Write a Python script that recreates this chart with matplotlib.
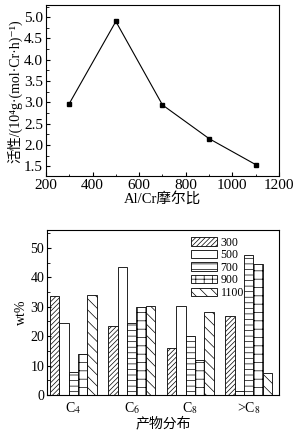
import numpy as np
import matplotlib
matplotlib.use("Agg")
import matplotlib.pyplot as plt
from matplotlib.ticker import MultipleLocator, AutoMinorLocator

plt.rcParams['font.family'] = ['Liberation Serif', 'DejaVu Serif', 'Noto Sans CJK SC']
plt.rcParams['mathtext.fontset'] = 'stix'
plt.rcParams['hatch.linewidth'] = 0.5
plt.rcParams['axes.linewidth'] = 0.8

# activity vs Al/Cr ratio
ratio = [300, 500, 700, 900, 1100]
activity = [2.97, 4.90, 2.94, 2.15, 1.54]

# product distribution (wt%)
groups = ['C$_4$', 'C$_6$', 'C$_8$', '>C$_8$']
series_labels = ['300', '500', '700', '900', '1100']
wt = {
    '300': [33.5, 23.6, 15.9, 26.9],
    '500': [24.6, 43.5, 30.3, 1.4],
    '700': [7.9, 24.5, 19.9, 47.6],
    '900': [14.0, 29.9, 11.9, 44.4],
    '1100': [34.0, 30.2, 28.3, 7.5],
}
hatches = ['///////', '', '---', '++', '\\\\\\']

fig = plt.figure(figsize=(3.02, 4.36), dpi=100)

ax1 = fig.add_axes([0.152, 0.596, 0.772, 0.392])
ax1.plot(ratio, activity, color='black', lw=0.8, marker='s', ms=3.5)
ax1.set_xlim(200, 1200)
ax1.set_ylim(1.27, 5.28)
ax1.xaxis.set_major_locator(MultipleLocator(200))
ax1.yaxis.set_major_locator(MultipleLocator(0.5))
ax1.xaxis.set_minor_locator(AutoMinorLocator(2))
ax1.yaxis.set_minor_locator(AutoMinorLocator(2))
ax1.tick_params(which='both', direction='in', labelsize=11, pad=2)
ax1.tick_params(which='major', length=3)
ax1.tick_params(which='minor', length=1.8)
ax1.set_xlabel('Al/Cr摩尔比', fontsize=10.5, labelpad=0)
ax1.set_ylabel('活性/(10⁴g·(mol·Cr·h)⁻¹)', fontsize=10, labelpad=1)

ax2 = fig.add_axes([0.156, 0.094, 0.768, 0.378])
x = np.arange(len(groups))
width = 0.16
for i, lab in enumerate(series_labels):
    ax2.bar(x + (i - 2) * width, wt[lab], width, color='white', edgecolor='black',
            linewidth=0.6, hatch=hatches[i], label=lab)
ax2.set_xlim(-0.45, 3.52)
ax2.set_ylim(0, 56)
ax2.set_xticks(x)
ax2.set_xticklabels(groups, fontsize=12.5)
ax2.yaxis.set_major_locator(MultipleLocator(10))
ax2.yaxis.set_minor_locator(AutoMinorLocator(2))
ax2.tick_params(which='both', direction='in', labelsize=10, pad=2)
ax2.tick_params(which='major', length=3)
ax2.tick_params(which='minor', length=1.8)
ax2.tick_params(axis='x', length=0, pad=4)
ax2.set_xlabel('产物分布', fontsize=10, labelpad=0)
ax2.set_ylabel('wt%', fontsize=10, labelpad=2)
ax2.legend(loc='upper left', frameon=False, fontsize=8.5, handlelength=2.2,
           handleheight=0.7, labelspacing=0.05, borderaxespad=0.0,
           handletextpad=0.3, bbox_to_anchor=(0.6, 0.99))

fig.savefig('out.png', dpi=100)
